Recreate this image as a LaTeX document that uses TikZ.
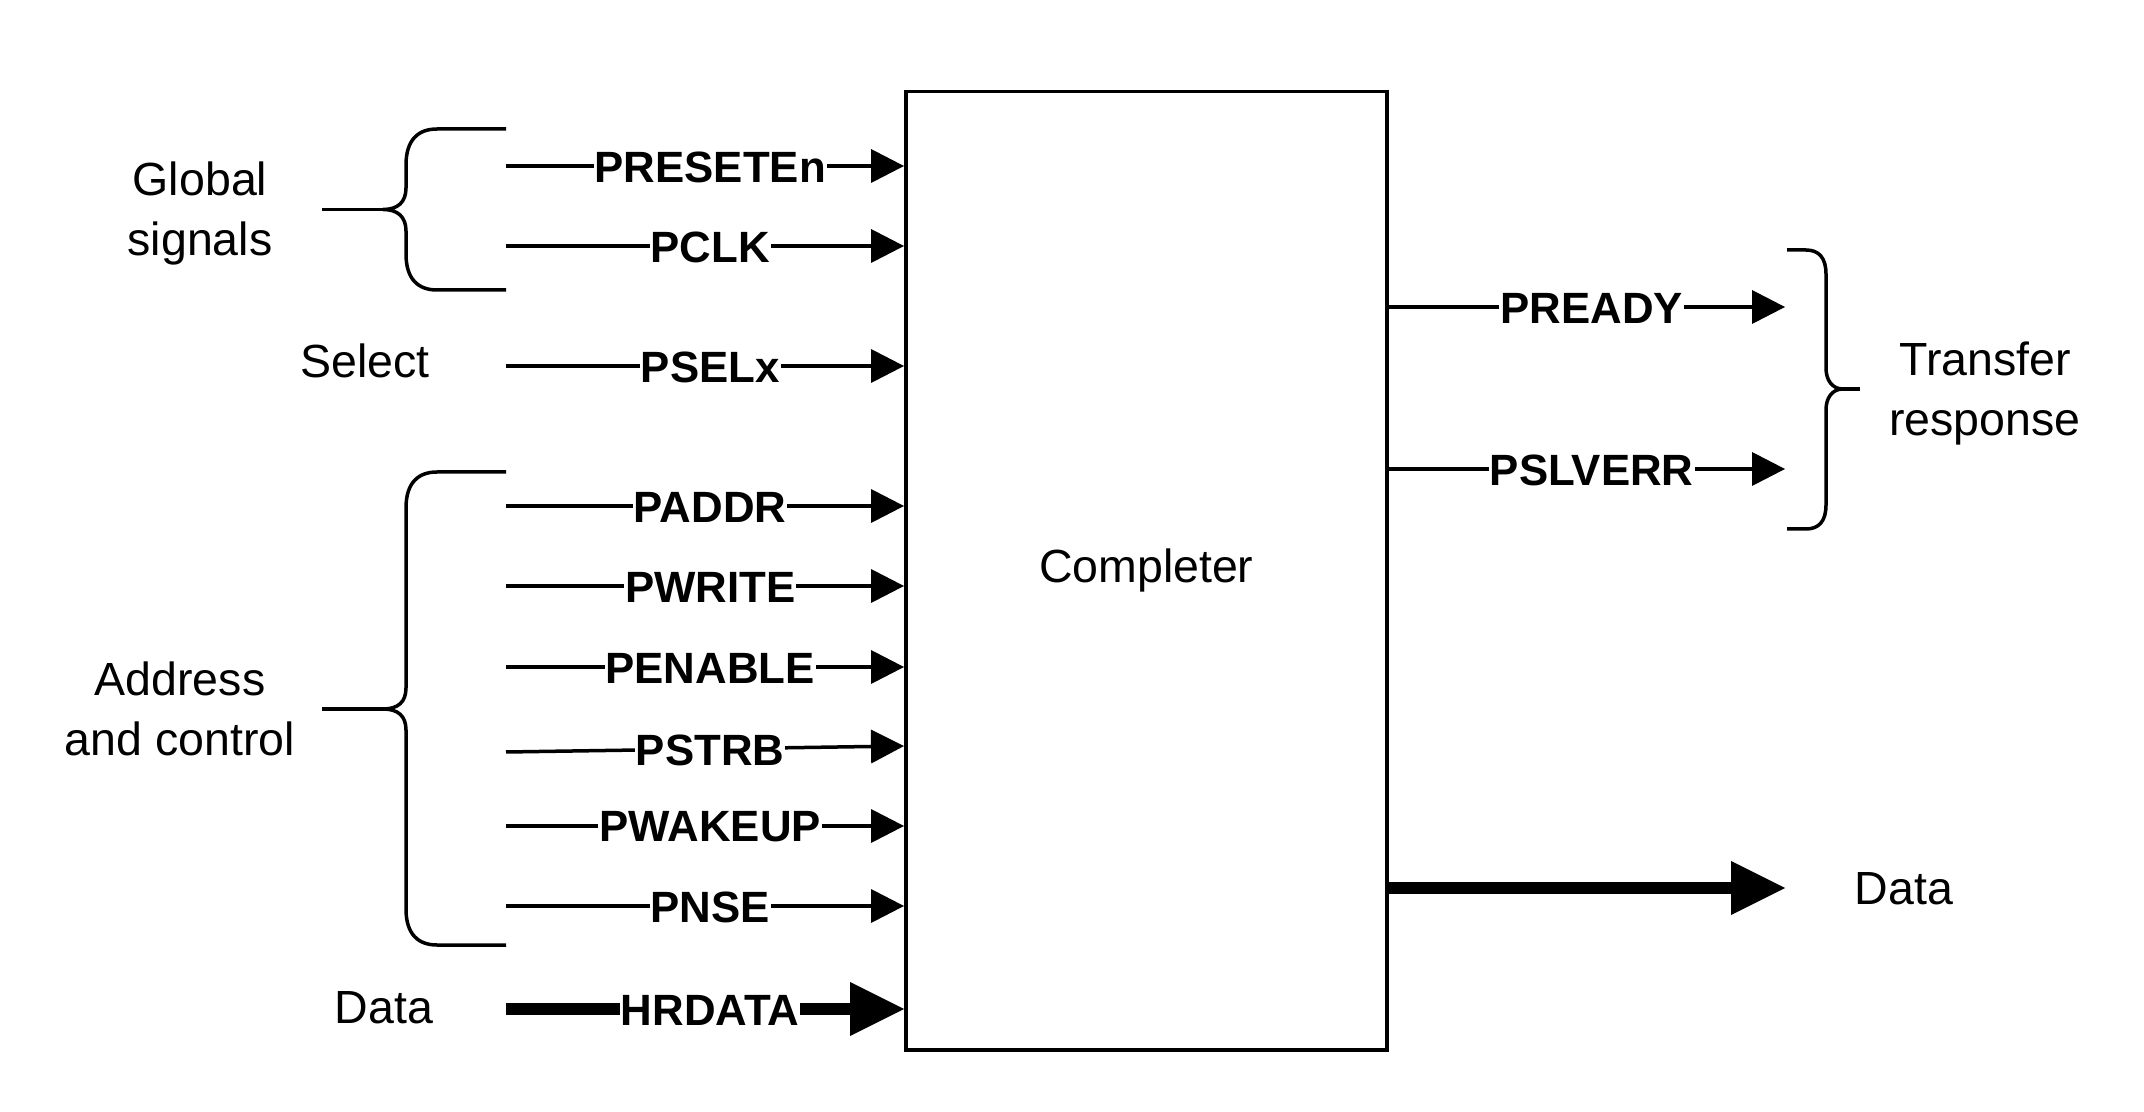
\documentclass[tikz,border=0pt]{standalone}
\usepackage{fontspec}
\setmainfont{Liberation Sans}
\usetikzlibrary{arrows.meta}
\begin{document}
\begin{tikzpicture}[x=0.5pt,y=-0.5pt,
  wire/.style={line width=1.75pt,-{Triangle[length=16.5pt,width=17pt,line width=0pt]}},
  thickwire/.style={line width=6pt,-{Triangle[length=27pt,width=27pt,line width=0pt]}},
  brace/.style={line width=1.75pt},
  lbl/.style={fill=white,inner sep=0.5pt,yshift=-0.5pt,font=\fontsize{21.9}{26}\selectfont\bfseries},
  txt/.style={font=\fontsize{23.25}{30}\selectfont,align=center,inner sep=0pt}]
\useasboundingbox (0,0) rectangle (2144,1112);
\node[draw,line width=1.75pt,minimum width=240.5pt,minimum height=479pt,inner sep=0pt,anchor=north west,font=\fontsize{23.25}{29}\selectfont] (box) at (904,90) {Completer};
% inputs
\coordinate (s1) at (506,166);
\coordinate (s2) at (506,246);
\coordinate (s3) at (506,366);
\coordinate (s4) at (506,506);
\coordinate (s5) at (506,586);
\coordinate (s6) at (506,667);
\coordinate (s7) at (506,752);
\coordinate (t7) at (600,746);
\coordinate (s8) at (506,826);
\coordinate (s9) at (506,906);
\coordinate (s10) at (506,1009);
\draw[wire] (s1) -- (box.west |- s1) node[lbl,pos=0.513] (l1) {PRESETEn};
\draw[wire] (s2) -- (box.west |- s2) node[lbl,pos=0.513] (l2) {PCLK};
\draw[wire] (s3) -- (box.west |- s3) node[lbl,pos=0.513] (l3) {PSELx};
\draw[wire] (s4) -- (box.west |- s4) node[lbl,pos=0.513] (l4) {PADDR};
\draw[wire] (s5) -- (box.west |- s5) node[lbl,pos=0.513] (l5) {PWRITE};
\draw[wire] (s6) -- (box.west |- s6) node[lbl,pos=0.513] (l6) {PENABLE};
\draw[wire] (s7) -- (box.west |- t7) node[lbl,pos=0.513] (l7) {PSTRB};
\draw[wire] (s8) -- (box.west |- s8) node[lbl,pos=0.513] (l8) {PWAKEUP};
\draw[wire] (s9) -- (box.west |- s9) node[lbl,pos=0.513] (l9) {PNSE};
\draw[thickwire] (s10) -- (box.west |- s10) node[lbl,pos=0.513] (l10) {HRDATA};
% outputs
\coordinate (o1) at (1785,307);
\coordinate (o2) at (1785,469);
\coordinate (o3) at (1785,888);
\draw[wire] (box.east |- o1) -- (o1) node[lbl,pos=0.5125] (r1) {PREADY};
\draw[wire] (box.east |- o2) -- (o2) node[lbl,pos=0.5125] (r2) {PSLVERR};
\draw[thickwire] (box.east |- o3) -- (o3);
% braces
\draw[brace] (506,129) -- (437,129) .. controls (418,129) and (406,140) .. (406,165) -- (406,188) .. controls (406,202) and (398,209.5) .. (383,209.5) .. controls (398,209.5) and (406,217) .. (406,231) -- (406,254) .. controls (406,279) and (418,290) .. (437,290) -- (506,290);
\draw[brace] (322,209.5) -- (383,209.5);
\draw[brace] (506,472) -- (437,472) .. controls (418,472) and (406,483) .. (406,508) -- (406,688) .. controls (406,702) and (398,709) .. (383,709) .. controls (398,709) and (406,716) .. (406,730) -- (406,909) .. controls (406,934) and (418,945) .. (437,945) -- (506,945);
\draw[brace] (322,709) -- (383,709);
\draw[brace] (1787,250) -- (1806,250) .. controls (1819,250) and (1826,258) .. (1826,274) -- (1826,368) .. controls (1826,380) and (1832,389) .. (1843,389) .. controls (1832,389) and (1826,398) .. (1826,410) -- (1826,505) .. controls (1826,521) and (1819,529) .. (1806,529) -- (1787,529);
\draw[brace] (1843,389) -- (1860,389);
% texts
\node[txt] (gs) at (200,213) {Global\\signals};
\node[txt,anchor=base] (sel) at (365,378) {Select};
\node[txt] (ac) at (180,709) {Address\\and control};
\node[txt,anchor=base] (dl) at (384,1023) {Data};
\node[txt] (tr) at (1985,393.5) {Transfer\\response};
\node[txt,anchor=base] (dr) at (1904,904) {Data};
\end{tikzpicture}
\end{document}
